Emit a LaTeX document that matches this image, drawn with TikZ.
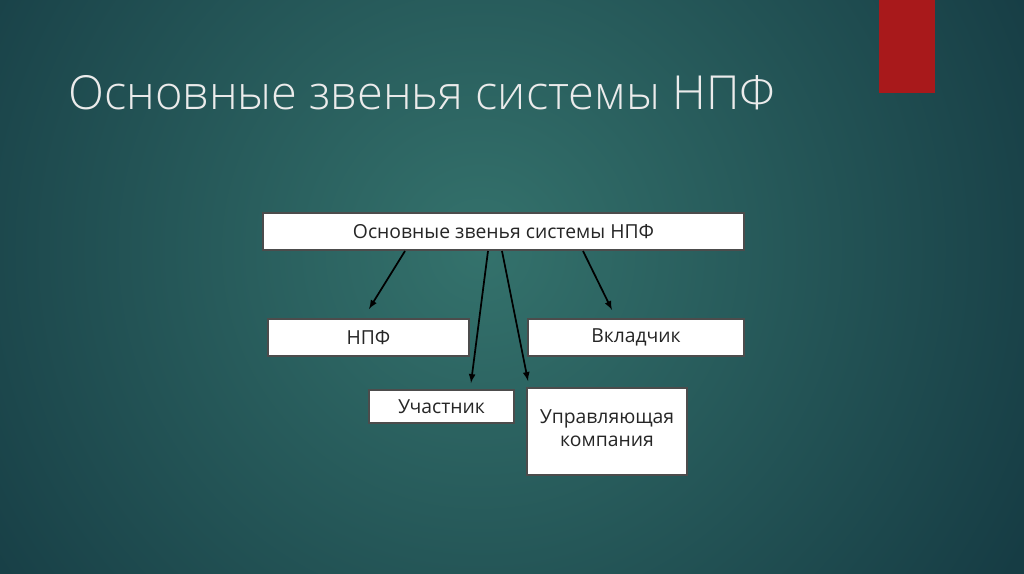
\documentclass[tikz,border=0pt]{standalone}
\usepackage{fontspec}
\setmainfont{Open Sans}
\newfontfamily\titlefont{Open Sans Light}
\begin{document}
\begin{tikzpicture}[x=0.75pt,y=-0.75pt,
  box/.style={draw=black!70,line width=0.8pt,fill=white,inner sep=0pt,font=\fontsize{14.5}{17.5}\selectfont,text=black!85,align=center},
  arr/.style={-latex,line width=1.3pt,black}]
\useasboundingbox (0,0) rectangle (1024,574);
\fill[color={rgb,255:red,22;green,60;blue,68}] (0,0) rectangle (1024,574);
\begin{scope}
\clip (0,0) rectangle (1024,574);
\shade[inner color={rgb,255:red,52;green,114;blue,108},outer color={rgb,255:red,22;green,60;blue,68}] (480,250) circle (620);
\end{scope}
\fill[color={rgb,255:red,168;green,25;blue,27}] (879,0) rectangle (935,93);
\node[anchor=base west,text=white!92!black,inner sep=0pt,font=\titlefont\fontsize{35.2}{42}\selectfont] (title) at (68,110) {Основные звенья системы НПФ};
\node[box,minimum width=360.75pt,minimum height=27.75pt] (top) at (503.5,231.5) {Основные звенья системы НПФ};
\node[box,minimum width=150.75pt,minimum height=27.75pt] (npf) at (368.5,337.5) {НПФ};
\node[box,minimum width=162pt,minimum height=27.75pt] (vk) at (636,337.5) {Вкладчик};
\node[box,minimum width=108.75pt,minimum height=24.75pt] (uch) at (441.5,406.5) {Участник};
\node[box,minimum width=120pt,minimum height=65.25pt,text depth=5pt] (uk) at (607,431.5) {Управляющая\\компания};
\coordinate (s1) at (405,251); \coordinate (e1) at (369,309);
\coordinate (s2) at (488,251); \coordinate (e2) at (471,383);
\coordinate (s3) at (502,251); \coordinate (e3) at (528,381);
\coordinate (s4) at (583,251); \coordinate (e4) at (612,310);
\draw[arr] (s1) -- (e1);
\draw[arr] (s2) -- (e2);
\draw[arr] (s3) -- (e3);
\draw[arr] (s4) -- (e4);
\end{tikzpicture}
\end{document}
